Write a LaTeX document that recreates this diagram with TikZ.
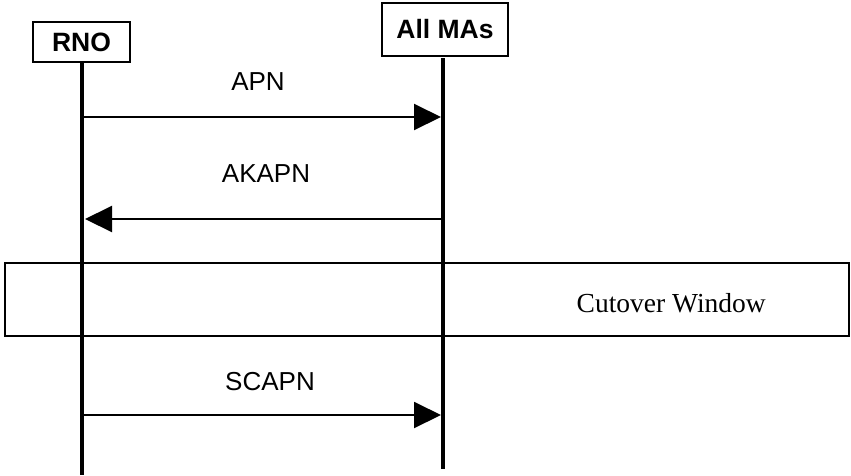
\documentclass[tikz,border=0pt]{standalone}
\usepackage{fontspec}
\setmainfont{Liberation Serif}
\newfontfamily\arialfont{Liberation Sans}
\usetikzlibrary{arrows.meta}
\begin{document}
\begin{tikzpicture}[x=1pt,y=-1pt,
  actor/.style={draw,line width=1.2pt,inner sep=0pt,font=\arialfont\bfseries\fontsize{26.5}{31}\selectfont},
  lifeline/.style={line width=4.5pt},
  msg/.style={line width=2pt,-{Triangle[length=27pt,width=26pt]}},
  msglabel/.style={font=\arialfont\fontsize{26}{31}\selectfont,inner sep=0pt},
  windowbox/.style={draw,line width=1.5pt}]
\useasboundingbox (0,0) rectangle (851,475);
% cutover window
\draw[windowbox] (5,263) rectangle (849,336);
\node[font=\fontsize{27.5}{32}\selectfont,inner sep=0pt,anchor=east] (cw) at (766,303) {Cutover Window};
% actors
\node[actor,minimum width=97pt,minimum height=40pt] (rno) at (81.5,42) {RNO};
\node[actor,minimum width=126pt,minimum height=53pt] (mas) at (445,29.5) {All MAs};
\coordinate (rnoT) at (82,62);
\coordinate (rnoB) at (82,475);
\coordinate (masT) at (443,58);
\coordinate (masB) at (443,469);
\draw[lifeline] (rnoT) -- (rnoB);
\draw[lifeline] (masT) -- (masB);
% messages
\coordinate (a1) at (82,117);  \coordinate (b1) at (441,117);
\coordinate (a2) at (443,219); \coordinate (b2) at (85,219);
\coordinate (a3) at (82,415);  \coordinate (b3) at (441,415);
\draw[msg] (a1) -- (b1);
\draw[msg] (a2) -- (b2);
\draw[msg] (a3) -- (b3);
\node[msglabel] (l1) at (258,82) {APN};
\node[msglabel] (l2) at (266,174) {AKAPN};
\node[msglabel] (l3) at (270,382) {SCAPN};
\end{tikzpicture}
\end{document}
